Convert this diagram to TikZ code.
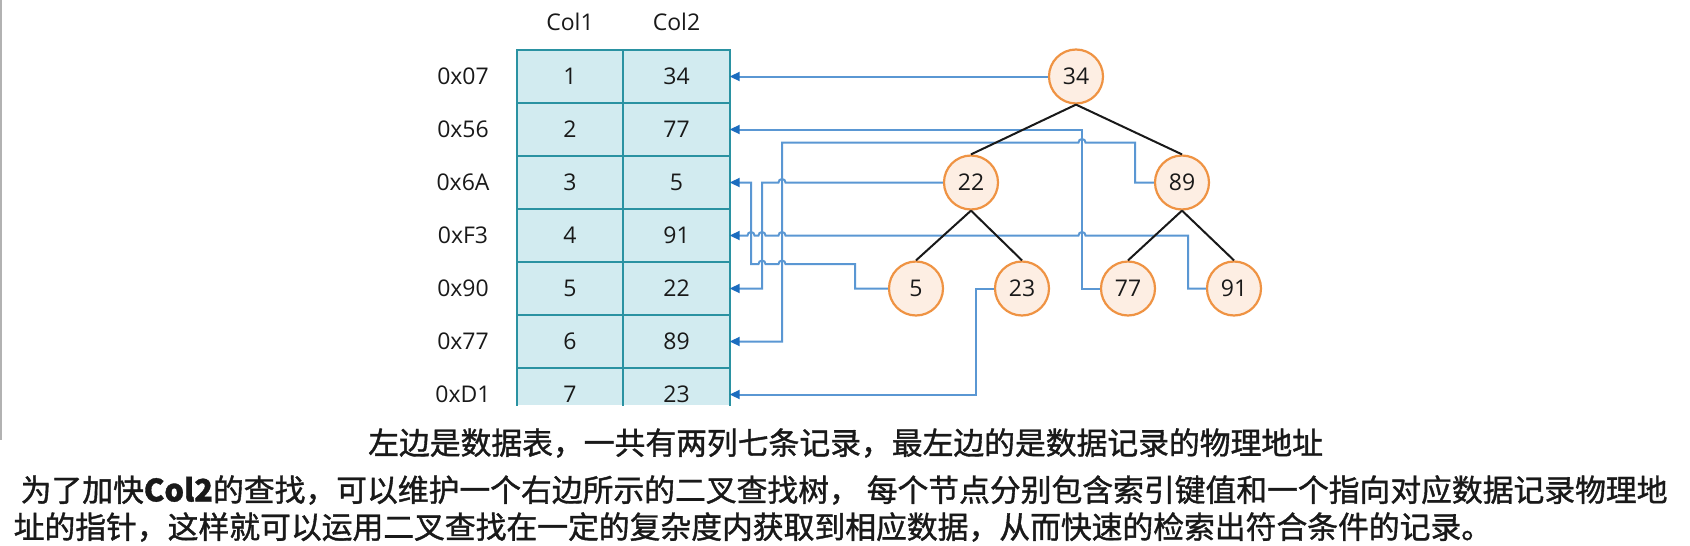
\documentclass[tikz,border=0pt]{standalone}
\usepackage{fontspec}
\usetikzlibrary{positioning,arrows.meta}
\newfontfamily\cjk[FakeBold=1.2]{Noto Sans CJK SC}
\newfontfamily\lblfont{Open Sans}
\definecolor{tabfill}{HTML}{D2EBF0}
\definecolor{tabline}{HTML}{2A92A2}
\definecolor{ptrline}{HTML}{5A97D3}
\definecolor{ptrtip}{HTML}{1C6DBF}
\definecolor{keyfill}{HTML}{FDEEE3}
\definecolor{keyline}{HTML}{EF9343}

\begin{document}
\begin{tikzpicture}[x=1pt,y=-1pt,
      lbl/.style = {font=\lblfont\fontsize{23}{27}\selectfont, text=black!90, inner sep=0pt},
      cell/.style = {lbl, minimum width=106pt, minimum height=53pt},
      key/.style = {lbl, circle, draw=keyline, line width=2.2pt, fill=keyfill,
         minimum size=54pt, on grid},
      tabrule/.style = {draw=tabline, line width=2.6pt, line cap=rect},
      ptr/.style = {draw=ptrline, line width=2pt,
         -{Triangle[length=10pt,width=9pt,color=ptrtip]}},
      branch/.style = {draw=black!90, line width=2pt},
      note/.style = {inner sep=0pt, anchor=west, text=black!90,
         font=\cjk\fontsize{30.8}{36}\selectfont}
   ]
   \useasboundingbox (0,0) rectangle (1690,546);
   \fill[white] (0,0) rectangle (1690,546);
   \draw[black!30, line width=1.5pt] (1,0) -- (1,440);

   % data table
   \fill[tabfill] (517,50) rectangle (730,405);
   \foreach \yy in {50,103,156,209,262,315,368}
      \draw[tabrule] (517,\yy) -- (730,\yy);
   \foreach \xx in {517,623,730}
      \draw[tabrule] (\xx,50) -- (\xx,405);

   \node[lbl] (h1) at (570,22)   {Col1};
   \node[lbl] (h2) at (676.5,22) {Col2};
   \foreach \addr/\key [count=\i] in {0x07/34,0x56/77,0x6A/5,0xF3/91,0x90/22,0x77/89,0xD1/23}{
      \node[lbl]  (a\i)    at (463,{76.5+53*(\i-1)})   {\addr};
      \node[cell] (r\i)    at (570,{76.5+53*(\i-1)})   {\i};
      \node[cell] (k\key)  at (676.5,{76.5+53*(\i-1)}) {\key};
   }

   % binary search tree
   \node[key]                                       (n34) at (1076,76.5) {34};
   \node[key, below left=106pt and 105pt of n34]    (n22) {22};
   \node[key, below right=106pt and 106pt of n34]   (n89) {89};
   \node[key, below left=106pt and 55pt of n22]     (n5)  {5};
   \node[key, below right=106pt and 51pt of n22]    (n23) {23};
   \node[key, below left=106pt and 54pt of n89]     (n77) {77};
   \node[key, below right=106pt and 52pt of n89]    (n91) {91};

   % pointers to the records
   \draw[ptr] (n34.west) -- (k34.east);
   \draw[ptr] (n77.west) -- (1082,288.5) -- (1082,129.5) -- (k77.east);
   \draw[ptr] (n89.west) -- (1135,182.5) -- (1135,142.5)
      -- (1085.5,142.5) arc[start angle=0,end angle=180,radius=3.5pt]
      -- (782,142.5) -- (782,341.5) -- (k89.east);
   \draw[ptr] (n22.west)
      -- (785.5,182.5) arc[start angle=0,end angle=180,radius=3.5pt]
      -- (762,182.5) -- (762,288.5) -- (k22.east);
   \draw[ptr] (n5.west) -- (855,288.5) -- (855,264)
      -- (785.5,264) arc[start angle=0,end angle=180,radius=3.5pt]
      -- (765.5,264) arc[start angle=0,end angle=180,radius=3.5pt]
      -- (751,264) -- (751,182.5) -- (k5.east);
   \draw[ptr] (n23.west) -- (976,288.5) -- (976,394.5) -- (k23.east);
   \draw[ptr] (n91.west) -- (1188,288.5) -- (1188,235.5)
      -- (1085.5,235.5) arc[start angle=0,end angle=180,radius=3.5pt]
      -- (785.5,235.5) arc[start angle=0,end angle=180,radius=3.5pt]
      -- (765.5,235.5) arc[start angle=0,end angle=180,radius=3.5pt]
      -- (754.5,235.5) arc[start angle=0,end angle=180,radius=3.5pt]
      -- (k91.east);

   \draw[branch] (n34.south) -- (n22.north);
   \draw[branch] (n34.south) -- (n89.north);
   \draw[branch] (n22.south) -- (n5.north);
   \draw[branch] (n22.south) -- (n23.north);
   \draw[branch] (n89.south) -- (n77.north);
   \draw[branch] (n89.south) -- (n91.north);

   % explanation
   \node[note] (txt1) at (368,443)
      {左边是数据表，一共有两列七条记录，最左边的是数据记录的物理地址};
   \node[note] (txt2) at (20.5,490)
      {为了加快\textbf{Col2}的查找，可以维护一个右边所示的二叉查找树， 每个节点分别包含索引键值和一个指向对应数据记录物理地};
   \node[note] (txt3) at (13.5,527)
      {址的指针，这样就可以运用二叉查找在一定的复杂度内获取到相应数据，从而快速的检索出符合条件的记录。};
\end{tikzpicture}
\end{document}
